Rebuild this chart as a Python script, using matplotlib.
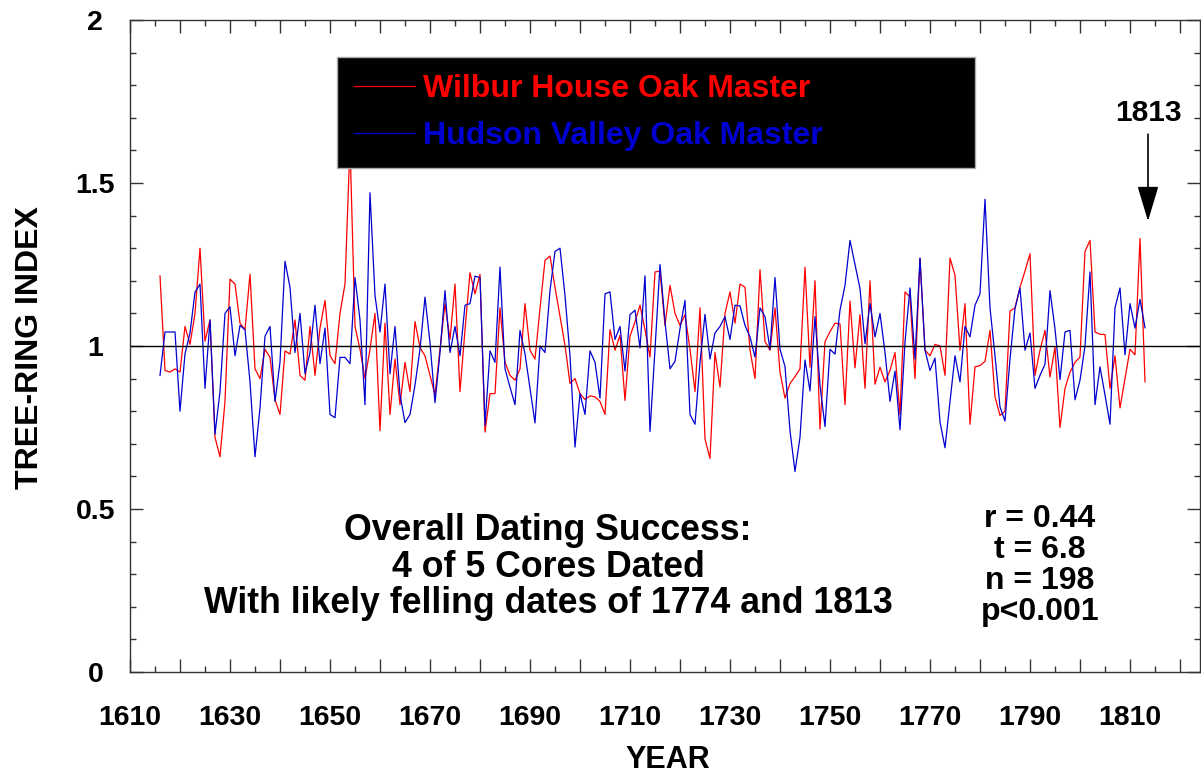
import matplotlib
matplotlib.use("Agg")
import matplotlib.pyplot as plt
from matplotlib.ticker import MultipleLocator, FuncFormatter
import numpy as np

# ring-width indices, one value per year 1616-1813
years = np.arange(1616, 1814)

wilbur = [
    1.215, 0.925, 0.92, 0.93, 0.92, 1.06, 1.005, 1.10, 1.30, 1.015,          # 1616-1625
    1.08, 0.72, 0.66, 0.83, 1.205, 1.19, 1.07, 1.05, 1.22, 0.93,             # 1626-1635
    0.90, 0.99, 0.965, 0.835, 0.79, 0.985, 0.975, 1.08, 0.91, 0.895,         # 1636-1645
    1.06, 0.91, 1.055, 1.14, 0.97, 0.946, 1.10, 1.19, 1.62, 1.06,            # 1646-1655
    0.99, 0.90, 0.99, 1.10, 0.74, 1.07, 0.79, 0.96, 0.82, 0.95,              # 1656-1665
    0.86, 1.075, 0.995, 0.97, 0.91, 0.85, 0.99, 1.13, 1.02, 1.19,            # 1666-1675
    0.86, 1.05, 1.225, 1.16, 1.22, 0.736, 0.854, 0.854, 1.117, 0.95,         # 1676-1685
    0.91, 0.895, 0.93, 1.13, 0.987, 0.96, 1.115, 1.263, 1.276, 1.18,         # 1686-1695
    1.09, 1.002, 0.885, 0.90, 0.854, 0.836, 0.847, 0.844, 0.83, 0.79,        # 1696-1705
    1.05, 0.987, 1.033, 0.833, 1.03, 1.074, 1.125, 1.05, 0.966, 1.227,       # 1706-1715
    1.23, 1.063, 1.186, 1.10, 1.063, 1.096, 0.99, 0.86, 1.117, 0.715,        # 1716-1725
    0.655, 0.98, 0.874, 1.10, 1.166, 1.07, 1.19, 1.18, 0.987, 0.90,          # 1726-1735
    1.234, 1.014, 0.987, 1.117, 0.92, 0.84, 0.885, 0.906, 0.93, 1.242,       # 1736-1745
    0.935, 1.20, 0.745, 1.013, 1.044, 1.07, 1.068, 0.82, 1.138, 0.933,       # 1746-1755
    1.096, 0.87, 1.20, 0.883, 0.935, 0.89, 0.925, 0.98, 0.79, 1.166,         # 1756-1765
    1.15, 0.90, 1.268, 0.987, 0.97, 1.005, 1.0, 0.91, 1.27, 1.217,           # 1766-1775
    0.987, 1.13, 0.76, 0.936, 0.94, 0.953, 1.048, 0.844, 0.787, 0.80,        # 1776-1785
    1.107, 1.117, 1.18, 1.23, 1.283, 0.91, 0.987, 1.048, 0.905, 0.997,       # 1786-1795
    0.75, 0.87, 0.92, 0.95, 0.966, 1.29, 1.324, 1.043, 1.036, 1.035,         # 1796-1805
    0.87, 0.97, 0.81, 0.90, 0.99, 0.973, 1.33, 0.89,                         # 1806-1813
]

hudson = [
    0.91, 1.043, 1.043, 1.043, 0.80, 0.976, 1.04, 1.165, 1.19, 0.87,         # 1616-1625
    1.08, 0.73, 0.86, 1.10, 1.12, 0.97, 1.063, 1.05, 0.89, 0.66,             # 1626-1635
    0.81, 1.03, 1.06, 0.83, 0.95, 1.26, 1.18, 0.98, 1.10, 0.915,             # 1636-1645
    0.98, 1.125, 0.946, 1.055, 0.79, 0.78, 0.965, 0.965, 0.946, 1.21,        # 1646-1655
    1.08, 0.82, 1.47, 1.155, 1.043, 1.19, 0.915, 1.06, 0.85, 0.765,          # 1656-1665
    0.79, 0.88, 0.99, 1.15, 1.01, 0.826, 0.98, 1.17, 0.98, 1.06,             # 1666-1675
    0.97, 1.125, 1.13, 1.214, 1.21, 0.757, 0.985, 0.95, 1.242, 0.93,         # 1676-1685
    0.874, 0.82, 1.048, 0.976, 0.87, 0.764, 1.0, 0.98, 1.17, 1.29,           # 1686-1695
    1.30, 1.155, 0.97, 0.69, 0.854, 0.79, 0.985, 0.95, 0.84, 1.16,           # 1696-1705
    1.166, 1.02, 1.06, 0.923, 1.096, 1.11, 0.994, 1.215, 0.738, 0.99,        # 1706-1715
    1.25, 1.074, 0.93, 0.953, 1.053, 1.14, 0.79, 0.76, 0.95, 1.097,          # 1716-1725
    0.96, 1.04, 1.06, 1.09, 1.02, 1.125, 1.123, 1.063, 1.028, 0.966,         # 1726-1735
    1.117, 1.09, 0.99, 1.21, 0.99, 0.937, 0.74, 0.615, 0.72, 0.957,          # 1736-1745
    0.862, 1.09, 0.88, 0.753, 0.99, 0.975, 1.11, 1.186, 1.324, 1.25,         # 1746-1755
    1.176, 1.007, 1.13, 1.028, 1.10, 0.98, 0.83, 0.923, 0.743, 1.012,        # 1756-1765
    1.178, 0.96, 1.27, 0.987, 0.925, 0.963, 0.767, 0.688, 0.828, 0.97,       # 1766-1775
    0.89, 1.06, 1.028, 1.125, 1.16, 1.45, 1.117, 0.97, 0.813, 0.77,          # 1776-1785
    0.96, 1.115, 1.178, 0.987, 1.04, 0.87, 0.91, 0.944, 1.17, 1.053,         # 1786-1795
    0.897, 1.043, 1.048, 0.835, 0.895, 1.0, 1.227, 0.82, 0.936, 0.85,        # 1796-1805
    0.76, 1.117, 1.178, 0.973, 1.13, 1.055, 1.143, 1.056,                    # 1806-1813
]

series_labels = ["Wilbur House Oak Master", "Hudson Valley Oak Master"]
series_colors = ["#ff0000", "#0000d0"]
y_ticks = [0, 0.5, 1, 1.5, 2]
y_ticklabels = ["0", "0.5", "1", "1.5", "2"]
summary = ["Overall Dating Success:", "4 of 5 Cores Dated",
           "With likely felling dates of 1774 and 1813"]
stats = ["r = 0.44", "t = 6.8", "n = 198", "p<0.001"]
felling_year = 1813

plt.rcParams['font.family'] = ['Liberation Sans', 'DejaVu Sans']
plt.rcParams['font.weight'] = 'bold'

fig = plt.figure(figsize=(12.01, 7.74), dpi=100)
ax = fig.add_axes([130 / 1201, 102 / 774, 1070 / 1201, 652 / 774])

ax.plot(years, wilbur, color=series_colors[0], lw=0.9, label=series_labels[0])
ax.plot(years, hudson, color=series_colors[1], lw=0.9, label=series_labels[1])
ax.axhline(1, color='black', lw=1)

ax.set_xlim(1610, 1824)
ax.set_ylim(0, 2)
ax.xaxis.set_major_locator(MultipleLocator(10))
ax.xaxis.set_minor_locator(MultipleLocator(5))
ax.xaxis.set_major_formatter(FuncFormatter(
    lambda v, p: str(int(round(v))) if int(round(v - 1610)) % 20 == 0 else ""))
ax.set_yticks(y_ticks, y_ticklabels)
ax.yaxis.set_minor_locator(MultipleLocator(0.1))

ax.tick_params(which='both', direction='in', top=True, right=True,
               color='#333333', width=1)
ax.tick_params(which='major', length=9.5, labelsize=20.5)
ax.tick_params(which='minor', length=4.5)
ax.tick_params(axis='x', which='major', pad=23.5)
ax.tick_params(axis='y', which='major', pad=25)
for lbl in ax.get_yticklabels():
    lbl.set_horizontalalignment('center')
for sp in ax.spines.values():
    sp.set_linewidth(1)
    sp.set_color('#333333')

ax.set_ylabel("TREE-RING INDEX", fontsize=23, fontweight='bold', va='center')
ax.yaxis.set_label_coords(-0.0935, 0.498)
ax.set_xlabel("YEAR", fontsize=22, fontweight='bold', va='center')
ax.xaxis.set_label_coords(0.5028, -0.135)

leg = ax.legend(loc='upper left', bbox_to_anchor=(0.1935, 0.5, 0.5963, 0.4433),
                mode='expand', borderaxespad=0, facecolor='black',
                edgecolor='#aaaaaa', framealpha=1, fancybox=False,
                prop={'family': ['Liberation Sans'], 'weight': 'bold', 'size': 23},
                handlelength=1.9, handletextpad=0.25, labelspacing=0.55,
                borderpad=0.53)
for txt, c in zip(leg.get_texts(), series_colors):
    txt.set_color(c)

ax.text(0.3907, 0.161, "\n".join(summary), transform=ax.transAxes,
        ha='center', va='center', fontsize=25.7, fontweight='bold', linespacing=1.06)
ax.text(0.8505, 0.163, "\n".join(stats), transform=ax.transAxes,
        ha='center', va='center', fontsize=23, fontweight='bold', linespacing=1.04)

ax.annotate(str(felling_year), xy=(felling_year + 0.6, 1.383),
            xytext=(felling_year + 0.6, 1.714), ha='center', va='center',
            fontsize=21.5, fontweight='bold',
            arrowprops=dict(arrowstyle='-|>,head_length=1.1,head_width=0.33',
                            color='black', lw=1.2, shrinkA=3, shrinkB=0,
                            mutation_scale=20))

fig.savefig("out.png", dpi=100)
